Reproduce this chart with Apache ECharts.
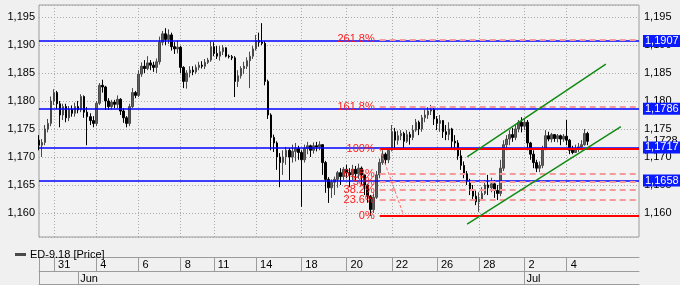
<!DOCTYPE html>
<html><head><meta charset="utf-8">
<script src="https://cdn.jsdelivr.net/npm/echarts/dist/echarts.min.js"></script>
<style>html,body{margin:0;padding:0;background:#f0f0f0}#c{width:680px;height:285px}</style>
</head><body><div id="c"></div>
<script>
// ---- data ----
const seriesName = 'ED-9.18 [Price]';
const slotCount = 200;
const dayLabels = ['31','4','6','8','11','14','18','20','22','26','28','2','4'];
const dayIdx = [5,19,33,47,58,72,87,102,117,132,146,161,175];
const monthLabels = ['Jun','Jul'];
const monthIdx = [13,161];

const opens = [1.1730,1.1721,1.1726,1.1750,1.1760,1.1800,1.1815,1.1795,1.1775,1.1790,
1.1770,1.1785,1.1778,1.1790,1.1784,1.1808,1.1780,1.1772,1.1765,1.1760,
1.1796,1.1828,1.1825,1.1800,1.1790,1.1798,1.1794,1.1803,1.1782,1.1770,
1.1760,1.1790,1.1815,1.1810,1.1848,1.1862,1.1858,1.1868,1.1864,1.1860,
1.1870,1.1905,1.1920,1.1910,1.1918,1.1897,1.1893,1.1896,1.1860,1.1835,
1.1850,1.1855,1.1852,1.1860,1.1864,1.1862,1.1869,1.1873,1.1897,1.1885,
1.1880,1.1888,1.1895,1.1880,1.1879,1.1877,1.1835,1.1845,1.1858,1.1862,
1.1872,1.1880,1.1893,1.1908,1.1905,1.1903,1.1835,1.1775,1.1735,1.1725,
1.1700,1.1690,1.1700,1.1712,1.1700,1.1710,1.1715,1.1708,1.1695,1.1715,
1.1720,1.1712,1.1720,1.1718,1.1722,1.1690,1.1660,1.1645,1.1655,1.1660,
1.1672,1.1665,1.1678,1.1672,1.1668,1.1678,1.1670,1.1680,1.1668,1.1650,
1.1630,1.1606,1.1628,1.1668,1.1690,1.1705,1.1695,1.1712,1.1745,1.1730,
1.1738,1.1742,1.1728,1.1740,1.1735,1.1748,1.1762,1.1750,1.1770,1.1775,
1.1782,1.1785,1.1768,1.1760,1.1765,1.1745,1.1740,1.1750,1.1728,1.1725,
1.1702,1.1685,1.1670,1.1657,1.1640,1.1630,1.1620,1.1625,1.1635,1.1650,
1.1645,1.1652,1.1640,1.1635,1.1680,1.1722,1.1732,1.1740,1.1735,1.1750,
1.1762,1.1755,1.1762,1.1725,1.1705,1.1690,1.1680,1.1685,1.1715,1.1738,
1.1732,1.1740,1.1733,1.1738,1.1732,1.1737,1.1730,1.1712,1.1708,1.1715,
1.1718,1.1722,1.1742];
const closes = [1.1721,1.1726,1.1750,1.1760,1.1800,1.1815,1.1795,1.1775,1.1790,1.1770,
1.1785,1.1778,1.1790,1.1784,1.1808,1.1780,1.1772,1.1765,1.1760,1.1796,
1.1828,1.1825,1.1800,1.1790,1.1798,1.1794,1.1803,1.1782,1.1770,1.1760,
1.1790,1.1815,1.1810,1.1848,1.1862,1.1858,1.1868,1.1864,1.1860,1.1870,
1.1905,1.1920,1.1910,1.1918,1.1897,1.1893,1.1896,1.1860,1.1835,1.1850,
1.1855,1.1852,1.1860,1.1864,1.1862,1.1869,1.1873,1.1897,1.1885,1.1880,
1.1888,1.1895,1.1880,1.1879,1.1877,1.1835,1.1845,1.1858,1.1862,1.1872,
1.1880,1.1893,1.1908,1.1905,1.1903,1.1835,1.1775,1.1735,1.1725,1.1700,
1.1690,1.1700,1.1712,1.1700,1.1710,1.1715,1.1708,1.1695,1.1715,1.1720,
1.1712,1.1720,1.1718,1.1722,1.1690,1.1660,1.1645,1.1655,1.1660,1.1672,
1.1665,1.1678,1.1672,1.1668,1.1678,1.1670,1.1680,1.1668,1.1650,1.1630,
1.1606,1.1628,1.1668,1.1690,1.1705,1.1695,1.1712,1.1745,1.1730,1.1738,
1.1742,1.1728,1.1740,1.1735,1.1748,1.1762,1.1750,1.1770,1.1775,1.1782,
1.1785,1.1768,1.1760,1.1765,1.1745,1.1740,1.1750,1.1728,1.1725,1.1702,
1.1685,1.1670,1.1657,1.1640,1.1630,1.1620,1.1625,1.1635,1.1650,1.1645,
1.1652,1.1640,1.1635,1.1680,1.1722,1.1732,1.1740,1.1735,1.1750,1.1762,
1.1755,1.1762,1.1725,1.1705,1.1690,1.1680,1.1685,1.1715,1.1738,1.1732,
1.1740,1.1733,1.1738,1.1732,1.1737,1.1730,1.1712,1.1708,1.1715,1.1718,
1.1722,1.1742,1.1728];
const lows = [1.1712,1.1700,1.1721,1.1744,1.1755,1.1793,1.1786,1.1753,1.1766,1.1762,
1.1764,1.1772,1.1772,1.1778,1.1780,1.1770,1.1721,1.1757,1.1753,1.1755,
1.1793,1.1815,1.1784,1.1784,1.1785,1.1787,1.1787,1.1775,1.1761,1.1753,
1.1755,1.1787,1.1805,1.1807,1.1843,1.1850,1.1855,1.1855,1.1852,1.1850,
1.1865,1.1900,1.1900,1.1902,1.1890,1.1884,1.1885,1.1850,1.1823,1.1822,
1.1842,1.1846,1.1848,1.1855,1.1858,1.1857,1.1866,1.1870,1.1880,1.1875,
1.1872,1.1882,1.1878,1.1876,1.1873,1.1807,1.1825,1.1840,1.1848,1.1857,
1.1823,1.1875,1.1890,1.1897,1.1900,1.1828,1.1768,1.1712,1.1709,1.1677,
1.1646,1.1668,1.1686,1.1659,1.1690,1.1692,1.1695,1.1611,1.1690,1.1705,
1.1700,1.1706,1.1710,1.1712,1.1668,1.1636,1.1618,1.1627,1.1632,1.1645,
1.1650,1.1659,1.1662,1.1646,1.1659,1.1657,1.1661,1.1650,1.1632,1.1618,
1.1595,1.1600,1.1625,1.1662,1.1686,1.1686,1.1689,1.1710,1.1716,1.1722,
1.1730,1.1716,1.1725,1.1722,1.1730,1.1745,1.1739,1.1745,1.1762,1.1768,
1.1775,1.1757,1.1748,1.1745,1.1734,1.1730,1.1730,1.1716,1.1712,1.1695,
1.1677,1.1662,1.1650,1.1632,1.1623,1.1614,1.1602,1.1623,1.1632,1.1632,
1.1637,1.1627,1.1623,1.1630,1.1675,1.1712,1.1721,1.1727,1.1730,1.1744,
1.1744,1.1748,1.1712,1.1695,1.1680,1.1673,1.1673,1.1680,1.1712,1.1728,
1.1726,1.1727,1.1726,1.1721,1.1727,1.1721,1.1705,1.1705,1.1707,1.1709,
1.1712,1.1720,1.1721];
const highs = [1.1739,1.1732,1.1757,1.1768,1.1808,1.1821,1.1818,1.1800,1.1795,1.1795,
1.1791,1.1792,1.1797,1.1800,1.1812,1.1810,1.1789,1.1778,1.1773,1.1800,
1.1832,1.1838,1.1827,1.1805,1.1802,1.1802,1.1810,1.1805,1.1787,1.1773,
1.1795,1.1823,1.1818,1.1855,1.1869,1.1873,1.1880,1.1873,1.1870,1.1876,
1.1915,1.1925,1.1930,1.1928,1.1922,1.1905,1.1908,1.1898,1.1862,1.1855,
1.1862,1.1862,1.1865,1.1870,1.1871,1.1875,1.1877,1.1907,1.1905,1.1898,
1.1898,1.1900,1.1896,1.1883,1.1882,1.1880,1.1855,1.1862,1.1870,1.1878,
1.1888,1.1898,1.1918,1.1922,1.1939,1.1907,1.1838,1.1778,1.1740,1.1728,
1.1707,1.1712,1.1718,1.1716,1.1722,1.1725,1.1720,1.1712,1.1722,1.1727,
1.1722,1.1726,1.1727,1.1728,1.1723,1.1693,1.1664,1.1660,1.1665,1.1675,
1.1680,1.1682,1.1686,1.1680,1.1686,1.1684,1.1688,1.1683,1.1666,1.1652,
1.1632,1.1635,1.1675,1.1697,1.1712,1.1708,1.1716,1.1757,1.1752,1.1747,
1.1748,1.1745,1.1748,1.1745,1.1757,1.1768,1.1765,1.1775,1.1784,1.1789,
1.1793,1.1789,1.1773,1.1775,1.1766,1.1757,1.1762,1.1752,1.1739,1.1730,
1.1712,1.1692,1.1675,1.1661,1.1650,1.1640,1.1637,1.1646,1.1659,1.1668,
1.1663,1.1659,1.1650,1.1695,1.1730,1.1739,1.1748,1.1752,1.1757,1.1766,
1.1771,1.1768,1.1766,1.1727,1.1712,1.1695,1.1692,1.1720,1.1748,1.1745,
1.1743,1.1740,1.1741,1.1740,1.1741,1.1766,1.1732,1.1720,1.1722,1.1725,
1.1730,1.1750,1.1745];

const levelValues = [1.1907, 1.1786, 1.1717, 1.1658];
const lastPrice = 1.1728;
const fibLabels = ['261.8%','161.8%','100%','61.8%','50%','38.2%','23.6%','0%'];
const fibValues = [1.1910, 1.1790, 1.1715, 1.1670, 1.1655, 1.1641, 1.1624, 1.1595];
const fibStart = 113, fibEnd = 199;
const fibDiagonal = [[113, 1.1715], [121, 1.1595]];
const trendLines = [[142, 1.1580, 193, 1.1754], [142, 1.1700, 188, 1.1866]];
const yMin = 1.15571, yMax = 1.19714;

// ---- chart ----
const FONT = '"Liberation Sans", Arial, sans-serif';
const categories = Array.from({length: slotCount}, (_, i) => String(i));
const candles = opens.map((o, i) => [o, closes[i], lows[i], highs[i]]);
const fmtY = v => (Math.abs(v * 200 - Math.round(v * 200)) < 1e-6) ? v.toFixed(3).replace('.', ',') : '';
const fmt4 = v => v.toFixed(4).replace('.', ',');

const mlData = [];
mlData.push({yAxis: lastPrice, lineStyle: {color: 'rgba(0,0,0,0)', width: 0},
  label: {show: true, position: 'end', distance: 5, formatter: fmt4(lastPrice), color: '#000', fontSize: 11, fontFamily: FONT}});
levelValues.forEach(v => {
  mlData.push({yAxis: v, lineStyle: {color: '#0000ff', width: 1.5, type: 'solid'},
    label: {show: true, position: 'end', distance: 4, formatter: fmt4(v), color: '#fff', backgroundColor: '#0a1aff',
      padding: [1, 2, 0, 2], fontSize: 11, fontFamily: FONT}});
});
fibValues.forEach((v, k) => {
  const solid = (fibLabels[k] === '100%' || fibLabels[k] === '0%');
  mlData.push([
    {coord: [fibStart, v], lineStyle: solid ? {color: '#ff0000', width: 2, type: 'solid'} : {color: '#f59a9a', width: 2, type: [6, 4]},
     label: {show: true, position: 'start', distance: 5, formatter: fibLabels[k], color: '#ff1a1a', fontSize: 11, fontFamily: FONT}},
    {coord: [fibEnd, v]}
  ]);
});
mlData.push([{coord: fibDiagonal[0], lineStyle: {color: '#ff6a6a', width: 1, type: [3, 2]}, label: {show: false}}, {coord: fibDiagonal[1]}]);
trendLines.forEach(t => {
  mlData.push([{coord: [t[0], t[1]], lineStyle: {color: '#138a13', width: 1.5, type: 'solid'}, label: {show: false}}, {coord: [t[2], t[3]]}]);
});

const dotted = {color: '#a9a9a9', width: 1, type: [1, 2]};
const gridLine = '#9c9c9c';

const option = {
  animation: false,
  backgroundColor: '#f0f0f0',
  textStyle: {fontFamily: FONT},
  legend: {left: 10, top: 244, icon: 'rect', itemWidth: 9, itemHeight: 1, itemGap: 5,
    textStyle: {fontSize: 11, color: '#000', fontFamily: FONT},
    data: [{name: seriesName, itemStyle: {color: '#777'}}]},
  grid: {left: 39, right: 41, top: 5, bottom: 48, show: true, borderColor: gridLine, borderWidth: 1, backgroundColor: '#f2f2f2'},
  xAxis: [
    {type: 'category', data: categories, boundaryGap: false, axisLine: {show: false}, axisTick: {show: false},
     axisLabel: {show: false},
     splitLine: {show: true, interval: (i) => dayIdx.includes(i), lineStyle: dotted}},
    {type: 'category', data: categories, boundaryGap: false, position: 'bottom', offset: 20,
     axisLine: {show: true, lineStyle: {color: gridLine}},
     axisTick: {show: true, length: 14, interval: (i) => i === 0 || dayIdx.includes(i), lineStyle: {color: gridLine}},
     axisLabel: {show: true, interval: (i) => dayIdx.includes(i), align: 'left', margin: 2, padding: [0, 0, 0, 4],
       formatter: (v, i) => { const k = dayIdx.indexOf(Number(v)); return k >= 0 ? dayLabels[k] : ''; },
       color: '#000', fontSize: 11, fontFamily: FONT}},
    {type: 'category', data: categories, boundaryGap: false, position: 'bottom', offset: 34,
     axisLine: {show: true, lineStyle: {color: gridLine}},
     axisTick: {show: true, length: 13, interval: (i) => i === 0 || monthIdx.includes(i), lineStyle: {color: gridLine}},
     axisLabel: {show: true, interval: (i) => monthIdx.includes(i), align: 'left', margin: 2, padding: [0, 0, 0, 2],
       formatter: (v) => { const k = monthIdx.indexOf(Number(v)); return k >= 0 ? monthLabels[k] : ''; },
       color: '#000', fontSize: 11, fontFamily: FONT}},
    {type: 'category', data: categories, boundaryGap: false, position: 'bottom', offset: 47,
     axisLine: {show: true, lineStyle: {color: gridLine}}, axisTick: {show: false}, axisLabel: {show: false}}
  ],
  yAxis: [
    {type: 'value', min: yMin, max: yMax, splitNumber: 8, position: 'left', scale: true,
     axisLine: {show: false}, axisTick: {show: false},
     axisLabel: {formatter: fmtY, margin: 4, color: '#000', fontSize: 11, fontFamily: FONT, showMinLabel: false, showMaxLabel: false},
     splitLine: {show: true, lineStyle: dotted}},
    {type: 'value', min: yMin, max: yMax, splitNumber: 8, position: 'right', scale: true,
     axisLine: {show: false}, axisTick: {show: false},
     axisLabel: {formatter: fmtY, margin: 5, color: '#000', fontSize: 11, fontFamily: FONT, showMinLabel: false, showMaxLabel: false},
     splitLine: {show: false}}
  ],
  series: [{
    name: seriesName, type: 'candlestick', xAxisIndex: 0, yAxisIndex: 0, data: candles, barWidth: 2,
    itemStyle: {color: '#5e5e5e', color0: '#000000', borderColor: '#4a4a4a', borderColor0: '#000000', borderWidth: 1},
    markLine: {silent: true, symbol: 'none', animation: false, precision: 4, data: mlData}
  }]
};
const chart = echarts.init(document.getElementById('c'), null, {renderer: 'canvas'});
chart.setOption(option);
</script></body></html>
